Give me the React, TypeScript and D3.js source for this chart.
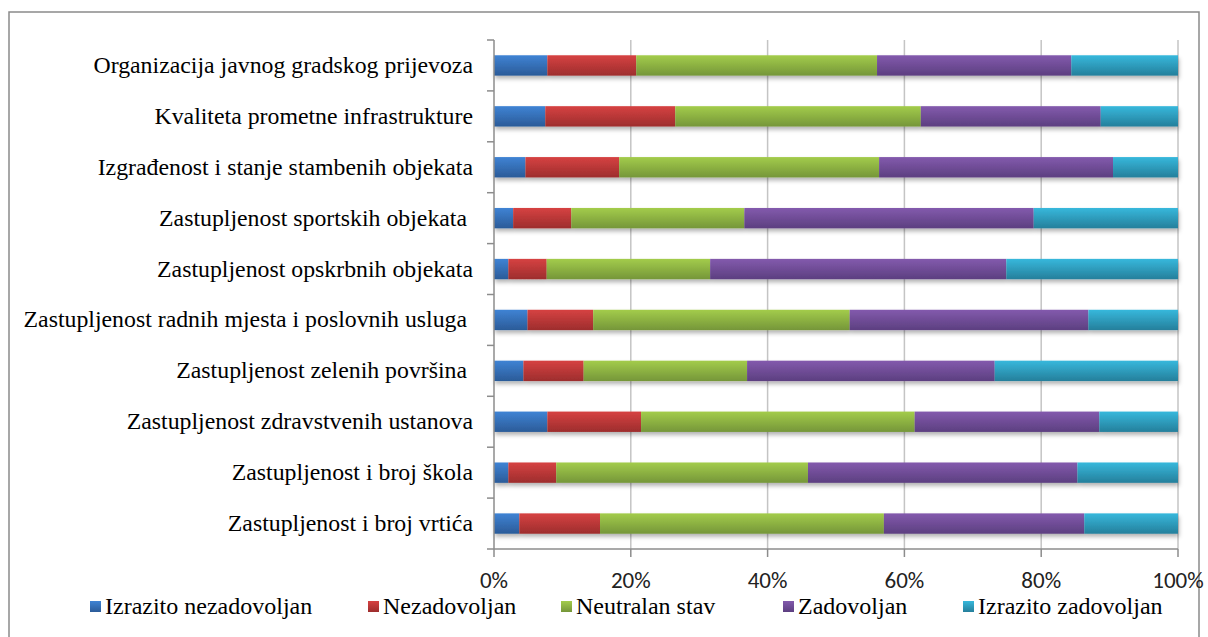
import React from 'react';
import * as d3 from 'd3';

// kategorije odozgo prema dolje
const categories = [
  'Organizacija javnog gradskog prijevoza',
  'Kvaliteta prometne infrastrukture',
  'Izgrađenost i stanje stambenih objekata',
  'Zastupljenost sportskih objekata ',
  'Zastupljenost opskrbnih objekata',
  'Zastupljenost radnih mjesta i poslovnih usluga ',
  'Zastupljenost zelenih površina ',
  'Zastupljenost zdravstvenih ustanova',
  'Zastupljenost i broj škola',
  'Zastupljenost i broj vrtića',
];

const seriesNames = [
  'Izrazito nezadovoljan',
  'Nezadovoljan',
  'Neutralan stav',
  'Zadovoljan',
  'Izrazito zadovoljan',
];

// postoci po kategoriji (isti redoslijed kao categories)
const izrazitoNezadovoljan = [7.8, 7.5, 4.6, 2.8, 2.1, 4.9, 4.3, 7.8, 2.1, 3.7];
const nezadovoljan = [13.0, 19.0, 13.7, 8.5, 5.6, 9.6, 8.8, 13.7, 7.0, 11.8];
const neutralanStav = [35.2, 35.9, 38.0, 25.3, 23.9, 37.5, 23.9, 40.0, 36.8, 41.5];
const zadovoljan = [28.4, 26.3, 34.2, 42.3, 43.3, 34.9, 36.2, 27.0, 39.4, 29.3];
const izrazitoZadovoljan = [15.6, 11.3, 9.5, 21.1, 25.1, 13.1, 26.8, 11.5, 14.7, 13.7];

const xTicks = [0, 20, 40, 60, 80, 100];

const colors = [
  ['#3f83d4', '#2b5b98'],
  ['#d64242', '#9d2d2d'],
  ['#a3cc4b', '#759639'],
  ['#835aad', '#5c3f80'],
  ['#37b8dc', '#257f9b'],
];

const width = 1208;
const height = 637;
const margin = { top: 40, left: 494, right: 30, bottom: 88 };

const serif = 'Liberation Serif';

export default function App() {
  const values = [izrazitoNezadovoljan, nezadovoljan, neutralanStav, zadovoljan, izrazitoZadovoljan];

  const rows = categories.map((c, i) => {
    const r: any = { cat: c };
    seriesNames.forEach((s, j) => { r[s] = values[j][i]; });
    return r;
  });

  // normaliziraj na 100%
  const stacked = d3.stack().keys(seriesNames).offset(d3.stackOffsetExpand)(rows);

  const x = d3.scaleLinear().domain([0, 1]).range([margin.left, 1178]);
  const y = d3.scaleBand().domain(categories).range([margin.top, 549]).paddingInner(0.6).paddingOuter(0.3);
  const step = y.step();
  const bandTop = (c: string) => (y(c) as number) - (step - y.bandwidth()) / 2;

  const legendX = [90, 368, 561, 783, 963];

  return (
    <svg width={width} height={height} style={{ position: 'absolute', left: 0, top: 0, background: '#fff' }}>
      <defs>
        {colors.map((c, i) => (
          <linearGradient key={i} id={`g${i}`} x1="0" y1="0" x2="0" y2="1">
            <stop offset="0" stopColor={c[0]} />
            <stop offset="1" stopColor={c[1]} />
          </linearGradient>
        ))}
        <filter id="shadow" x="-5%" y="-30%" width="110%" height="180%">
          <feDropShadow dx="1" dy="3" stdDeviation="2" floodColor="#000" floodOpacity="0.3" />
        </filter>
      </defs>

      <rect x={9} y={12} width={1190} height={640} fill="none" stroke="#8a8a8a" strokeWidth={1.5} />

      {/* mreža */}
      {xTicks.slice(1).map(t => (
        <line key={t} x1={x(t / 100)} x2={x(t / 100)} y1={margin.top} y2={549} stroke="#c4c4c4" strokeWidth={1.5} />
      ))}

      {/* trake */}
      <g filter="url(#shadow)">
        {stacked.map((s, j) => (
          <g key={s.key} fill={`url(#g${j})`}>
            {s.map((d: any, i) => (
              <rect key={i} x={x(d[0])} width={x(d[1]) - x(d[0])} y={y(categories[i])} height={y.bandwidth()} />
            ))}
          </g>
        ))}
      </g>

      {/* y os */}
      <line x1={margin.left} x2={margin.left} y1={margin.top} y2={549} stroke="#8c8c8c" strokeWidth={1.5} />
      {categories.map(c => (
        <line key={c} x1={487} x2={margin.left} y1={bandTop(c)} y2={bandTop(c)} stroke="#8c8c8c" strokeWidth={1.5} />
      ))}
      <line x1={487} x2={margin.left} y1={549} y2={549} stroke="#8c8c8c" strokeWidth={1.5} />
      {categories.map(c => (
        <text key={c} x={473} y={(y(c) as number) + y.bandwidth() / 2 + 7.5} textAnchor="end"
          fontFamily={serif} fontSize={23.8} fill="#000" style={{ whiteSpace: 'pre' }}>{c}</text>
      ))}

      {/* x os */}
      <line x1={margin.left} x2={1178} y1={549} y2={549} stroke="#8c8c8c" strokeWidth={1.5} />
      {xTicks.map(t => (
        <g key={t}>
          <line x1={x(t / 100)} x2={x(t / 100)} y1={549} y2={557} stroke="#8c8c8c" strokeWidth={1.5} />
          <text x={x(t / 100)} y={587.5} textAnchor="middle" fontFamily="Carlito" fontSize={23} fill="#222">{t}%</text>
        </g>
      ))}

      {/* legenda */}
      {seriesNames.map((s, j) => (
        <g key={s}>
          <rect x={legendX[j]} y={601} width={11} height={11} fill={`url(#g${j})`} />
          <text x={legendX[j] + 15} y={613.5} fontFamily={serif} fontSize={24} fill="#000">{s}</text>
        </g>
      ))}
    </svg>
  );
}
